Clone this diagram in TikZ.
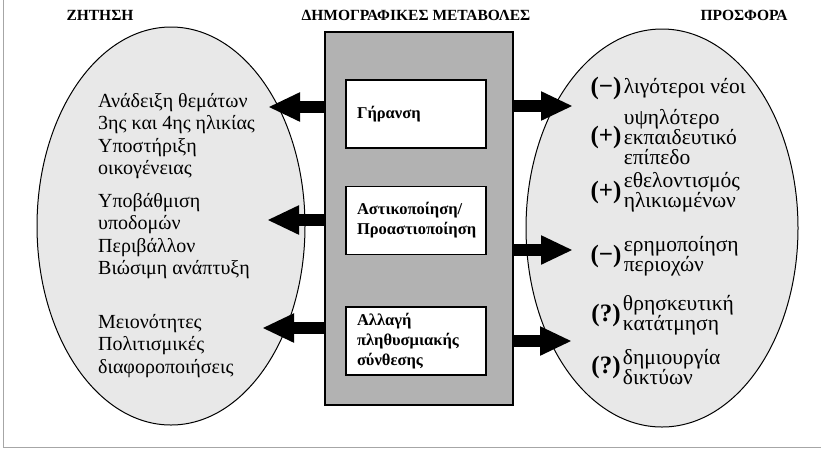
\documentclass[tikz,border=0pt]{standalone}
\usepackage{fontspec}
\setmainfont{Liberation Serif}
\usetikzlibrary{shapes.geometric,arrows.meta}
\begin{document}
\begin{tikzpicture}[x=1pt,y=-1pt,
    title/.style={font=\bfseries\fontsize{15.5}{18}\selectfont},
    oval/.style={draw,line width=1pt,ellipse,fill=black!9},
    change/.style={draw,line width=1.6pt,fill=white,minimum width=140pt,minimum height=68pt,
      text width=118pt,inner xsep=11pt,align=left,font=\bfseries\fontsize{16.5}{20}\selectfont},
    need/.style={anchor=north west,inner sep=0pt,align=left,font=\fontsize{20}{22.5}\selectfont},
    sign/.style={inner sep=0pt,font=\bfseries\fontsize{25}{25}\selectfont},
    offer/.style={anchor=west,inner sep=2pt,align=left,font=\fontsize{21.5}{20}\selectfont},
    bigarrow/.style={line width=12pt,-{Triangle[length=32pt,width=27pt]}}]
  \useasboundingbox (0,0) rectangle (821,451);
  \draw[black!35] (3,0) -- (3,447) -- (821,447);
  \node[title] (demand) at (100,15) {ΖΗΤΗΣΗ};
  \node[title] (demog) at (416,15) {ΔΗΜΟΓΡΑΦΙΚΕΣ ΜΕΤΑΒΟΛΕΣ};
  \node[title] (supply) at (744,15) {ΠΡΟΣΦΟΡΑ};
  \node[oval,minimum width=268pt,minimum height=398pt] (left) at (171,226) {};
  \node[oval,minimum width=272pt,minimum height=398pt] (right) at (662,228) {};
  \node[draw,line width=1.2pt,fill=black!30,minimum width=188pt,minimum height=373pt] (changes) at (419,218.5) {};
  \node[change] (b1) at (416,114) {Γήρανση};
  \node[change] (b2) at (416,220.5) {Αστικοποίηση/\\Προαστιοποίηση};
  \node[change] (b3) at (416,341) {Αλλαγή\\πληθυσμιακής\\σύνθεσης};
  \node[need] (n1) at (98,93) {Ανάδειξη θεμάτων\\3ης και 4ης ηλικίας\\Υποστήριξη\\οικογένειας};
  \node[need] (n2) at (98,193) {Υποβάθμιση\\υποδομών\\Περιβάλλον\\Βιώσιμη ανάπτυξη};
  \node[need] (n3) at (98,314) {Μειονότητες\\Πολιτισμικές\\διαφοροποιήσεις};
  \node[sign] (s1) at (606,88) {(−)};
  \node[sign] (s2) at (606,137) {(+)};
  \node[sign] (s3) at (606,192) {(+)};
  \node[sign] (s4) at (606,256) {(−)};
  \node[sign] (s5) at (606,315) {(?)};
  \node[sign] (s6) at (606,367) {(?)};
  \node[offer] (o1) at (s1.east) {λιγότεροι νέοι};
  \node[offer] (o2) at (s2.east) {υψηλότερο\\εκπαιδευτικό\\επίπεδο};
  \node[offer] (o3) at (s3.east) {εθελοντισμός\\ηλικιωμένων};
  \node[offer] (o4) at (s4.east) {ερημοποίηση\\περιοχών};
  \node[offer] (o5) at (s5.east) {θρησκευτική\\κατάτμηση};
  \node[offer] (o6) at (s6.east) {δημιουργία\\δικτύων};
  \coordinate (d1) at (268,107);
  \coordinate (d2) at (267,220);
  \coordinate (d3) at (262,328);
  \coordinate (p1) at (573,106);
  \coordinate (p2) at (573,250);
  \coordinate (p3) at (572,341);
  \begin{scope}[bigarrow]
    \draw (changes.west |- d1) to (d1);
    \draw (changes.west |- d2) to (d2);
    \draw (changes.west |- d3) to (d3);
    \draw (changes.east |- p1) to (p1);
    \draw (changes.east |- p2) to (p2);
    \draw (changes.east |- p3) to (p3);
  \end{scope}
\end{tikzpicture}
\end{document}
